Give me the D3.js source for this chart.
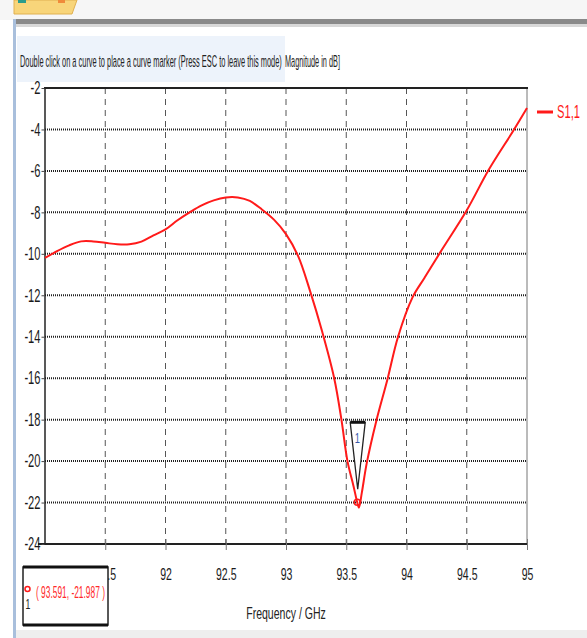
<!DOCTYPE html>
<html>
<head>
<meta charset="utf-8">
<script src="https://cdn.jsdelivr.net/npm/d3@7"></script>
<style>
  html, body { margin: 0; padding: 0; background: #ffffff; }
  svg { display: block; }
  text { font-family: "Liberation Sans", "DejaVu Sans", sans-serif; }
</style>
</head>
<body>
<svg id="chart" width="587" height="638"></svg>
<script>
// S1,1 magnitude (dB) versus frequency (GHz)
const freqGHz = [91.0, 91.1, 91.2, 91.3, 91.4, 91.5, 91.6, 91.7, 91.8, 91.9,
  92.0, 92.1, 92.2, 92.3, 92.4, 92.5, 92.6, 92.7, 92.8, 92.9,
  93.0, 93.1, 93.2, 93.3, 93.4, 93.46, 93.51, 93.56, 93.591, 93.605,
  93.63, 93.67, 93.75, 93.84, 93.93, 94.05, 94.15, 94.28, 94.5, 94.68, 94.89, 95.0];
const s11dB = [-10.2, -9.87, -9.59, -9.40, -9.40, -9.47, -9.54, -9.54, -9.41, -9.11,
  -8.82, -8.38, -8.00, -7.66, -7.42, -7.28, -7.28, -7.45, -7.86, -8.35,
  -9.05, -10.1, -11.8, -13.75, -16.0, -18.0, -20.0, -21.2, -21.987, -22.25,
  -21.5, -20.1, -18.05, -16.1, -14.0, -12.1, -11.15, -9.93, -7.9, -5.97, -4.03, -2.97];

const xTicks = [91.5, 92, 92.5, 93, 93.5, 94, 94.5, 95];
const yTicks = [-2, -4, -6, -8, -10, -12, -14, -16, -18, -20, -22, -24];
const seriesName = "S1,1";
const markerFreq = 93.591;
const markerDb = -21.987;

const NARROW = 0.62; // horizontal squeeze for the condensed UI lettering

const svg = d3.select("#chart");
const x = d3.scaleLinear().domain([91, 95]).range([45, 527]);
const y = d3.scaleLinear().domain([-24, -2]).range([544, 88]);

// condensed text: drawn in a squeezed group anchored at (px, py)
function narrowText(parent, px, py, size, str, opts = {}) {
  const g = parent.append("g");
  const t = g.append("text").attr("x", 0).attr("y", 0).attr("font-size", size)
    .attr("fill", opts.fill || "#222").attr("text-anchor", opts.anchor || "start").text(str);
  let sx = opts.scale || NARROW;
  if (opts.width) sx = opts.width / t.node().getComputedTextLength();
  g.attr("transform", `translate(${px},${py}) scale(${sx},1)`);
  return t;
}

// window chrome
svg.append("rect").attr("x", 0).attr("y", 0).attr("width", 587).attr("height", 20).attr("fill", "#f6f6f6");
svg.append("path").attr("d", "M14,0 V14 H72 L77,0 Z").attr("fill", "#f8d57a").attr("stroke", "#e0b050");
svg.append("rect").attr("x", 18).attr("y", 0).attr("width", 8).attr("height", 3).attr("fill", "#2a9c8c");
svg.append("rect").attr("x", 58).attr("y", 0).attr("width", 7).attr("height", 3).attr("fill", "#f08a3a");
svg.append("rect").attr("x", 14).attr("y", 19).attr("width", 573).attr("height", 5).attr("fill", "#8a8a8a");
svg.append("rect").attr("x", 14).attr("y", 24).attr("width", 573).attr("height", 3).attr("fill", "#d8d8d8");
svg.append("rect").attr("x", 13).attr("y", 19).attr("width", 3).attr("height", 619).attr("fill", "#a9bfdc");
svg.append("rect").attr("x", 16).attr("y", 630).attr("width", 571).attr("height", 8).attr("fill", "#eeeeee");

// hint box and axis title
svg.append("rect").attr("x", 17).attr("y", 36).attr("width", 268).attr("height", 46).attr("fill", "#edf3fb");
narrowText(svg, 20, 67, 17, "Double click on a curve to place a curve marker (Press ESC to leave this mode)", { width: 262 });
narrowText(svg, 285, 67, 17, "Magnitude in dB]", { width: 55 });

// grid
const grid = svg.append("g");
grid.selectAll("line.v").data(xTicks.filter(d => d < 95)).join("line")
  .attr("x1", d => x(d)).attr("x2", d => x(d)).attr("y1", y(-2)).attr("y2", y(-24))
  .attr("stroke", "#555").attr("stroke-width", 1).attr("stroke-dasharray", "6,5");
grid.selectAll("line.h").data(yTicks.filter(d => d > -24 && d < -2)).join("line")
  .attr("x1", x(91)).attr("x2", x(95)).attr("y1", d => y(d)).attr("y2", d => y(d))
  .attr("stroke", "#222").attr("stroke-width", 2).attr("stroke-dasharray", "1,1");

// frame
svg.append("line").attr("x1", x(95)).attr("x2", x(95)).attr("y1", y(-2)).attr("y2", y(-24))
  .attr("stroke", "#777").attr("stroke-width", 1);
svg.append("line").attr("x1", x(91) - 1).attr("x2", x(95) + 1).attr("y1", y(-2)).attr("y2", y(-2))
  .attr("stroke", "#222").attr("stroke-width", 2);

// axes
const xAxis = svg.append("g").attr("transform", `translate(0,${y(-24)})`)
  .call(d3.axisBottom(x).tickValues(xTicks).tickSize(6).tickSizeOuter(0).tickFormat(d => String(d)));
xAxis.select(".domain").attr("stroke", "#222").attr("stroke-width", 2)
  .attr("d", `M${x(91) - 7},0H${x(95) + 1}`);
xAxis.selectAll(".tick line").attr("stroke", "#777").attr("y1", -5);
xAxis.selectAll(".tick text").attr("y", 24).attr("dy", "0.71em").attr("font-size", 17).attr("fill", "#1a1a1a")
  .attr("transform", `scale(${NARROW},1)`);

const yAxis = svg.append("g").attr("transform", `translate(${x(91) - 0.5},0)`)
  .call(d3.axisLeft(y).tickValues(yTicks).tickSize(3).tickSizeOuter(0).tickFormat(d => String(d)));
yAxis.select(".domain").attr("stroke", "#222").attr("stroke-width", 1.5);
yAxis.selectAll(".tick line").attr("stroke", "#444");
yAxis.selectAll(".tick text").attr("x", -4 / NARROW).attr("font-size", 18).attr("fill", "#1a1a1a")
  .attr("transform", `scale(${NARROW},1)`);

// curve
const pts = freqGHz.map((f, i) => [f, s11dB[i]]);
svg.append("path").datum(pts)
  .attr("d", d3.line().x(d => x(d[0])).y(d => y(d[1])).curve(d3.curveCatmullRom.alpha(0.5)))
  .attr("fill", "none").attr("stroke", "#ff1a1a").attr("stroke-width", 2);

// legend
svg.append("line").attr("x1", 537).attr("x2", 553).attr("y1", 112).attr("y2", 112)
  .attr("stroke", "#ff1a1a").attr("stroke-width", 3);
narrowText(svg, 557, 118, 18, seriesName, { fill: "#ff1a1a" });

// curve marker
const mx = x(markerFreq), my = y(markerDb);
svg.append("circle").attr("cx", mx).attr("cy", my).attr("r", 3)
  .attr("fill", "none").attr("stroke", "#ff1a1a").attr("stroke-width", 1.5);
svg.append("path").attr("d", `M${mx - 7},${my - 80} H${mx + 8} L${mx + 0.5},${my - 13} Z`)
  .attr("fill", "#fff").attr("stroke", "#222").attr("stroke-width", 1.3);
svg.append("line").attr("x1", mx - 7).attr("x2", mx + 8).attr("y1", my - 80).attr("y2", my - 80)
  .attr("stroke", "#111").attr("stroke-width", 3);
narrowText(svg, mx, my - 59, 15, "1", { fill: "#3a5aa8", anchor: "middle" });

// marker readout box
svg.append("rect").attr("x", 23).attr("y", 567).attr("width", 85).attr("height", 58)
  .attr("fill", "#fff").attr("stroke", "#222").attr("stroke-width", 1.5);
svg.append("line").attr("x1", 23).attr("x2", 108).attr("y1", 567).attr("y2", 567).attr("stroke", "#111").attr("stroke-width", 3);
svg.append("line").attr("x1", 23).attr("x2", 108).attr("y1", 625).attr("y2", 625).attr("stroke", "#111").attr("stroke-width", 3);
svg.append("circle").attr("cx", 27.5).attr("cy", 589).attr("r", 2.5)
  .attr("fill", "none").attr("stroke", "#ff1a1a").attr("stroke-width", 1.5);
narrowText(svg, 28, 609, 14, "1", { anchor: "middle" });
narrowText(svg, 36, 598, 17, `( ${markerFreq}, ${markerDb} )`, { fill: "#ff2a2a", width: 69 });

// x axis title
narrowText(svg, x(93), 619, 17, "Frequency / GHz", { anchor: "middle" });
</script>
</body>
</html>
